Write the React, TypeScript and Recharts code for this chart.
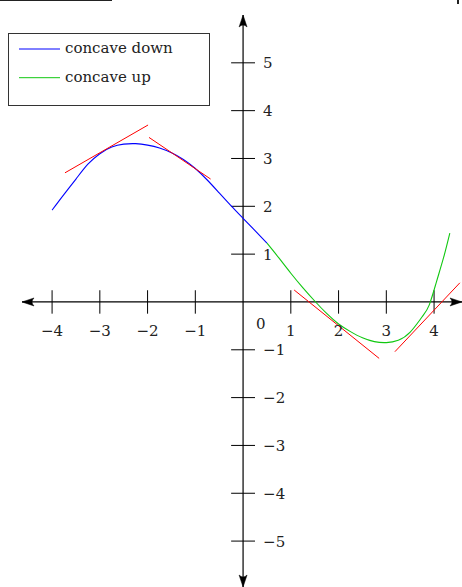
import React from "react";
import {
  ComposedChart,
  Line,
  XAxis,
  YAxis,
  ReferenceLine,
  ReferenceDot,
  Legend,
} from "recharts";

const FONT = "'DejaVu Serif', serif";

// blue part of the curve
const concaveDown = [
  { x: -4.0, y: 1.92 },
  { x: -3.75, y: 2.25 },
  { x: -3.5, y: 2.57 },
  { x: -3.25, y: 2.88 },
  { x: -3.0, y: 3.1 },
  { x: -2.75, y: 3.24 },
  { x: -2.5, y: 3.3 },
  { x: -2.25, y: 3.31 },
  { x: -2.0, y: 3.28 },
  { x: -1.75, y: 3.22 },
  { x: -1.5, y: 3.12 },
  { x: -1.25, y: 2.98 },
  { x: -1.0, y: 2.79 },
  { x: -0.75, y: 2.55 },
  { x: -0.5, y: 2.28 },
  { x: -0.25, y: 2.01 },
  { x: 0.0, y: 1.75 },
  { x: 0.25, y: 1.49 },
  { x: 0.5, y: 1.23 },
];

// green part of the curve
const concaveUp = [
  { x: 0.5, y: 1.23 },
  { x: 0.75, y: 0.92 },
  { x: 1.0, y: 0.6 },
  { x: 1.25, y: 0.3 },
  { x: 1.5, y: 0.02 },
  { x: 1.75, y: -0.24 },
  { x: 2.0, y: -0.46 },
  { x: 2.25, y: -0.62 },
  { x: 2.5, y: -0.75 },
  { x: 2.75, y: -0.83 },
  { x: 3.0, y: -0.85 },
  { x: 3.25, y: -0.8 },
  { x: 3.5, y: -0.63 },
  { x: 3.75, y: -0.31 },
  { x: 3.9, y: -0.06 },
  { x: 4.05, y: 0.42 },
  { x: 4.2, y: 0.93 },
  { x: 4.33, y: 1.44 },
];

// red tangent segments
const tangents = [
  [{ x: -3.73, y: 2.7 }, { x: -1.99, y: 3.7 }],
  [{ x: -1.97, y: 3.44 }, { x: -0.68, y: 2.57 }],
  [{ x: 1.07, y: 0.25 }, { x: 2.85, y: -1.18 }],
  [{ x: 3.18, y: -1.04 }, { x: 4.54, y: 0.4 }],
];

const xTicks = [-4, -3, -2, -1, 1, 2, 3, 4];
const yTicks = [-5, -4, -3, -2, -1, 1, 2, 3, 4, 5];
const xDomain = [-4.63, 4.585];
const yDomain = [-5.96, 6.0];

const fmt = (v: number) => (v < 0 ? "\u2212" + Math.abs(v) : String(v));

const arrow = (dir: "left" | "right" | "up" | "down") => (props: any) => {
  const { cx, cy } = props;
  const L = 12;
  const W = 4;
  const N = 8;
  let d = "";
  if (dir === "right")
    d = `M${cx},${cy} L${cx - L},${cy - W} Q${cx - N},${cy} ${cx - L},${cy + W} Z`;
  if (dir === "left")
    d = `M${cx},${cy} L${cx + L},${cy - W} Q${cx + N},${cy} ${cx + L},${cy + W} Z`;
  if (dir === "up")
    d = `M${cx},${cy} L${cx - W},${cy + L} Q${cx},${cy + N} ${cx + W},${cy + L} Z`;
  if (dir === "down")
    d = `M${cx},${cy} L${cx - W},${cy - L} Q${cx},${cy - N} ${cx + W},${cy - L} Z`;
  return <path d={d} fill="#000" stroke="#000" strokeWidth={0.5} />;
};

const xLabel = (v: number) => (props: any) => (
  <text
    x={props.cx}
    y={props.cy + 34}
    textAnchor="middle"
    fontFamily={FONT}
    fontSize={15}
    fill="#222"
  >
    {fmt(v)}
  </text>
);

const yLabel = (v: number) => (props: any) => (
  <text
    x={props.cx + 20}
    y={props.cy + 5.5}
    textAnchor="start"
    fontFamily={FONT}
    fontSize={15}
    fill="#222"
  >
    {fmt(v)}
  </text>
);

const zeroLabel = (props: any) => (
  <text x={props.cx + 13} y={props.cy + 27} fontFamily={FONT} fontSize={15} fill="#222">
    0
  </text>
);

const LegendBox = ({ payload }: any) => {
  const items = (payload || []).filter(
    (p: any) => p.value === "concave down" || p.value === "concave up"
  );
  return (
    <svg width={202} height={73}>
      <rect x={0.5} y={0.5} width={201} height={72} fill="#fff" stroke="#333" />
      {items.map((p: any, i: number) => (
        <g key={p.value}>
          <line x1={11} x2={52} y1={16 + i * 28.7} y2={16 + i * 28.7} stroke={p.color} />
          <text x={57} y={19.7 + i * 29} fontFamily={FONT} fontSize={15} fill="#222">
            {p.value}
          </text>
        </g>
      ))}
    </svg>
  );
};

export default function App() {
  return (
    <div style={{ position: "absolute", left: 0, top: 0, width: 462, height: 587 }}>
      <div style={{ position: "absolute", left: 0, top: 0, width: 112, height: 1, background: "#222" }} />
      <div style={{ position: "absolute", left: 457, top: 0, width: 2, height: 4, background: "#222" }} />
      <ComposedChart
        width={462}
        height={587}
        margin={{ top: 15, right: 0, bottom: 0, left: 22 }}
      >
        <XAxis type="number" dataKey="x" domain={xDomain} hide allowDataOverflow />
        <YAxis type="number" dataKey="y" domain={yDomain} hide allowDataOverflow />

        <ReferenceLine y={0} stroke="#000" strokeWidth={1.2} ifOverflow="visible" />
        <ReferenceLine x={0} stroke="#000" strokeWidth={1.2} ifOverflow="visible" />
        {xTicks.map((t) => (
          <ReferenceLine
            key={"xt" + t}
            segment={[{ x: t, y: -0.245 }, { x: t, y: 0.245 }]}
            stroke="#000"
            strokeWidth={1}
          />
        ))}
        {yTicks.map((t) => (
          <ReferenceLine
            key={"yt" + t}
            segment={[{ x: -0.25, y: t }, { x: 0.25, y: t }]}
            stroke="#000"
            strokeWidth={1}
          />
        ))}

        <Line
          data={concaveDown}
          dataKey="y"
          name="concave down"
          type="natural"
          stroke="#0000ff"
          strokeWidth={1.1}
          dot={false}
          isAnimationActive={false}
        />
        <Line
          data={concaveUp}
          dataKey="y"
          name="concave up"
          type="natural"
          stroke="#11c811"
          strokeWidth={1.1}
          dot={false}
          isAnimationActive={false}
        />
        {tangents.map((seg, i) => (
          <Line
            key={"tan" + i}
            data={seg}
            dataKey="y"
            name={"tangent " + i}
            type="linear"
            stroke="#ff0000"
            strokeWidth={1}
            dot={false}
            legendType="none"
            isAnimationActive={false}
          />
        ))}

        {xTicks.map((t) => (
          <ReferenceDot key={"xl" + t} x={t} y={0} ifOverflow="visible" shape={xLabel(t)} />
        ))}
        {yTicks.map((t) => (
          <ReferenceDot key={"yl" + t} x={0} y={t} ifOverflow="visible" shape={yLabel(t)} />
        ))}
        <ReferenceDot x={0} y={0} ifOverflow="visible" shape={zeroLabel} />

        <ReferenceDot x={xDomain[1]} y={0} ifOverflow="visible" shape={arrow("right")} />
        <ReferenceDot x={xDomain[0]} y={0} ifOverflow="visible" shape={arrow("left")} />
        <ReferenceDot x={0} y={yDomain[1]} ifOverflow="visible" shape={arrow("up")} />
        <ReferenceDot x={0} y={yDomain[0]} ifOverflow="visible" shape={arrow("down")} />

        <Legend
          layout="horizontal"
          verticalAlign="middle"
          align="center"
          content={<LegendBox />}
          wrapperStyle={{ left: 8, top: 33, width: 202, height: 73 }}
        />
      </ComposedChart>
    </div>
  );
}
